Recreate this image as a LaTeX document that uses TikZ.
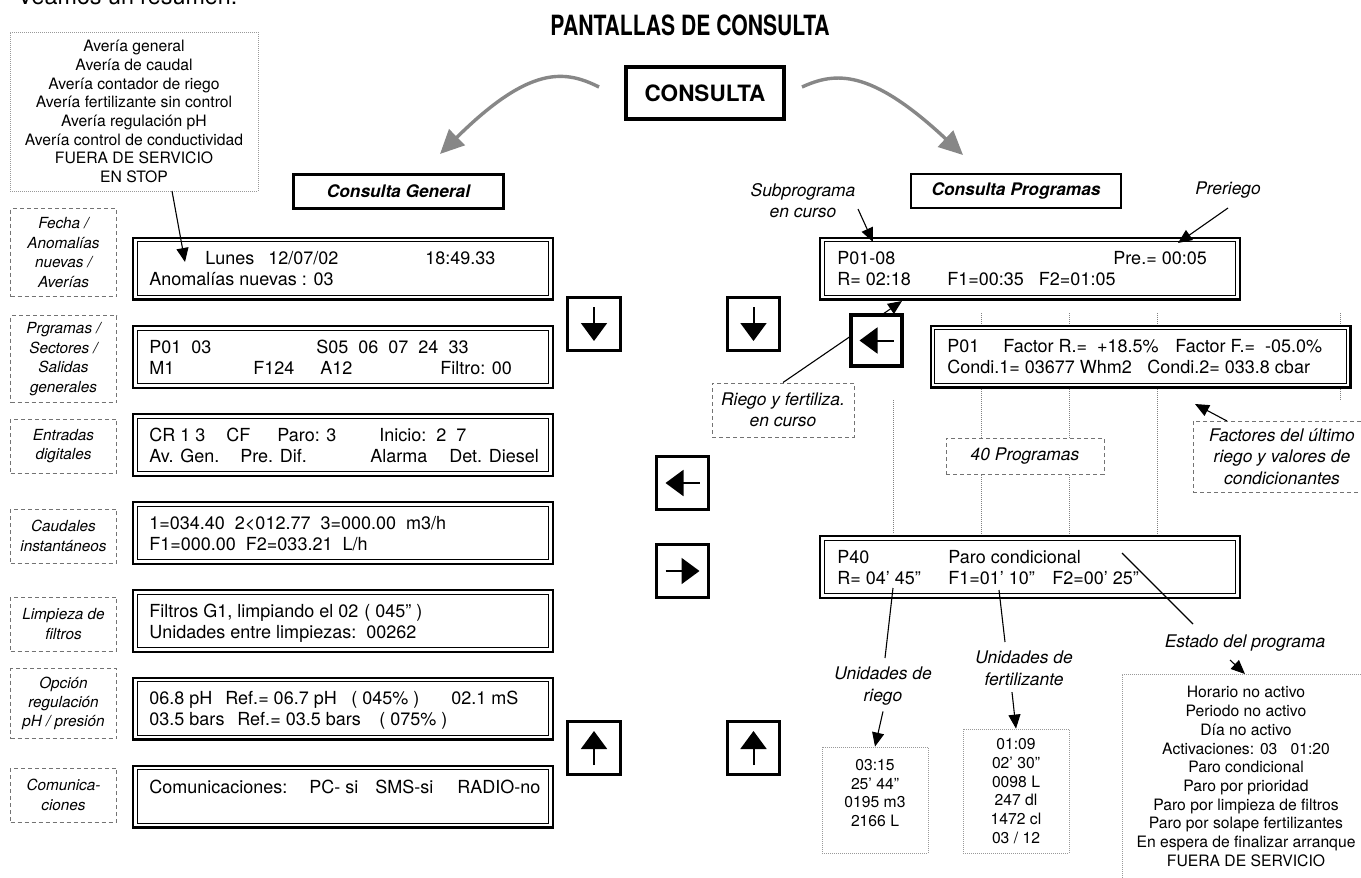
\documentclass[tikz,border=0pt]{standalone}
\usepackage{fontspec}
\setmainfont{TeX Gyre Heros}
\usepackage{graphicx}
\usetikzlibrary{arrows.meta,calc}

% type sizes
\newcommand\fScreen{\fontsize{9}{10.5}\selectfont}
\newcommand\fList{\fontsize{7.85}{9.35}\selectfont}
\newcommand\fSide{\fontsize{7.65}{9.7}\selectfont\itshape}
\newcommand\fNote{\fontsize{8.7}{10.75}\selectfont\itshape}
% one piece of display text, placed on its baseline
\newcommand\lcdline[4]{\node[lcdtxt] (#1) at (#2,#3) {#4};}
% a display frame: heavy outer rule with a thin rule inside it
\newcommand\lcdbox[2]{\node[lcd] (#1) at (#2) {};
  \draw[line width=0.6pt] ([xshift=2.6pt,yshift=-2.6pt]#1.north west) rectangle ([xshift=-2.6pt,yshift=2.6pt]#1.south east);}

\tikzset{
  lcd/.style={draw, line width=1.1pt, minimum width=209.9pt, minimum height=30.9pt, inner sep=0pt},
  lcdtxt/.style={anchor=base west, inner sep=0pt, font=\fScreen},
  keybox/.style={draw, fill=white, line width=1.65pt, minimum size=26.3pt, inner sep=0pt},
  keyarrow/.style={line width=1pt, -{Triangle[length=9pt,width=13pt]}},
  hdr/.style={draw, line width=1.35pt, minimum width=105pt, minimum height=17pt,
    inner sep=0pt, font=\bfseries\itshape\fontsize{8.65}{10}\selectfont},
  sidebox/.style={draw=black!55, dash pattern=on 2pt off 1.5pt, line width=0.5pt,
    minimum width=53pt, inner sep=0pt, align=center, font=\fSide},
  notebox/.style={draw=black!55, fill=white, dash pattern=on 2pt off 1.5pt, line width=0.5pt,
    inner sep=0pt, align=center, font=\fNote},
  dotbox/.style={draw=black!40, dash pattern=on 0.5pt off 0.5pt, line width=0.4pt,
    inner sep=0pt, align=center, font=\fList},
  note/.style={inner sep=0pt, align=center, font=\fNote},
  annarrow/.style={line width=0.55pt, -{Triangle[length=7pt,width=6pt]}},
  annline/.style={line width=0.55pt},
  stack/.style={draw=black!50, dash pattern=on 0.5pt off 0.5pt, line width=0.5pt},
  bigarrow/.style={draw=black!47, line width=1.7pt, -{Triangle[length=12pt,width=11pt]}},
}

\begin{document}
\begin{tikzpicture}[x=0.5pt,y=-0.5pt]
\useasboundingbox (0,0) rectangle (1361,878);
\fill[white] (0,0) rectangle (1361,878);

% ---------- heading ----------
\node[anchor=base west, inner sep=0pt, font=\fontsize{11.65}{14}\selectfont] (intro) at (17,4) {Veamos un resumen:};
\node[inner sep=0pt, font=\bfseries\fontsize{13.95}{16}\selectfont] (title) at (690,25)
  {\scalebox{0.757}[1]{PANTALLAS DE CONSULTA}};
\node[draw, line width=2pt, minimum width=79pt, minimum height=26pt, inner sep=0pt,
  font=\bfseries\fontsize{11.25}{13}\selectfont] (cons) at (705,93) {CONSULTA};

\coordinate (gl0) at (599,87);
\coordinate (gl1) at (440,154);
\coordinate (gr0) at (802,87);
\coordinate (gr1) at (963,155);
\draw[bigarrow] (gl0) .. controls (565,70) and (530,65) .. (gl1);
\draw[bigarrow] (gr0) .. controls (835,72) and (870,68) .. (gr1);

\node[hdr] (cg) at (398.5,191.5) {Consulta General};
\node[hdr] (cp) at (1016,191) {Consulta Programas};

% ---------- fault list ----------
\node[dotbox, minimum width=124pt, minimum height=79.5pt] (av) at (134,111.5)
  {Avería general\\Avería de caudal\\Avería contador de riego\\Avería fertilizante sin control\\
   Avería regulación pH\\Avería control de conductividad\\FUERA DE SERVICIO\\EN STOP};

% ---------- side captions ----------
\node[sidebox, minimum height=44pt] (sFecha) at (63.5,252.5) {Fecha /\\Anomalías\\nuevas /\\Averías};
\node[sidebox, minimum height=43.5pt] (sProg) at (63.5,359) {Prgramas /\\Sectores /\\Salidas\\generales};
\node[sidebox, minimum height=27pt] (sEnt) at (63.5,446) {Entradas\\digitales};
\node[sidebox, minimum height=27pt] (sCau) at (63.5,536) {Caudales\\instantáneos};
\node[sidebox, minimum height=27pt] (sLim) at (63.5,624) {Limpieza de\\filtros};
\node[sidebox, minimum height=35pt] (sOpc) at (63.5,703.5) {Opción\\regulación\\pH / presión};
\node[sidebox, minimum height=27pt] (sCom) at (63.5,795) {Comunica-\\ciones};

% ---------- general displays ----------
\lcdbox{dFecha}{343,268.5}
\lcdbox{dProg}{343,357}
\lcdbox{dEnt}{343,445}
\lcdbox{dCau}{343,533}
\lcdbox{dLim}{343,621}
\lcdbox{dOpc}{343,708.5}
\lcdbox{dCom}{343,796.5}

\lcdline{f1}{205}{264.5}{Lunes}
\lcdline{f2}{268}{264.5}{12/07/02}
\lcdline{f3}{425}{264.5}{18:49.33}
\lcdline{f4}{149}{285.5}{Anomalías nuevas : 03}

\lcdline{p1}{149}{353}{P01\ \ 03}
\lcdline{p2}{316}{353}{S05\ \ 06\ \ 07\ \ 24\ \ 33}
\lcdline{p3}{149}{374}{M1}
\lcdline{p4}{253}{374}{F124}
\lcdline{p5}{320}{374}{A12}
\lcdline{p6}{440}{374}{Filtro: 00}

\lcdline{e1}{149}{441}{CR 1 3}
\lcdline{e2}{226}{441}{CF}
\lcdline{e3}{277}{441}{Paro: 3}
\lcdline{e4}{379}{441}{Inicio:\ \ 2\ \ 7}
\lcdline{e5}{149}{462}{Av. Gen.}
\lcdline{e6}{240}{462}{Pre. Dif.}
\lcdline{e7}{370}{462}{Alarma}
\lcdline{e8}{449}{462}{Det. Diesel}

\lcdline{c1}{149}{529}{1=034.40\ \ 2<012.77\ \ 3=000.00\ \ m3/h}
\lcdline{c2}{149}{550}{F1=000.00\ \ F2=033.21\ \ L/h}

\lcdline{l1}{149}{617}{Filtros G1, limpiando el 02}
\lcdline{l2}{364}{617}{( 045” )}
\lcdline{l3}{149}{638}{Unidades entre limpiezas:}
\lcdline{l4}{366}{638}{00262}

\lcdline{o1}{149}{704.5}{06.8 pH}
\lcdline{o2}{225}{704.5}{Ref.= 06.7 pH}
\lcdline{o3}{351}{704.5}{( 045\% )}
\lcdline{o4}{451}{704.5}{02.1 mS}
\lcdline{o5}{149}{725.5}{03.5 bars}
\lcdline{o6}{237}{725.5}{Ref.= 03.5 bars}
\lcdline{o7}{379}{725.5}{( 075\% )}

\lcdline{k1}{149}{793.5}{Comunicaciones:}
\lcdline{k2}{309}{793.5}{PC- si}
\lcdline{k3}{375}{793.5}{SMS-si}
\lcdline{k4}{457}{793.5}{RADIO-no}

\coordinate (avTail) at (172,191);
\coordinate (avTip) at (185,262);
\draw[annarrow] (avTail) -- (avTip);

% ---------- navigation keys ----------
\node[keybox] (kd1) at (594,324) {};
\node[keybox] (kd2) at (753.5,324) {};
\node[keybox] (kl1) at (682.5,483) {};
\node[keybox] (kr1) at (682.5,571) {};
\node[keybox] (ku1) at (594,748) {};
\node[keybox] (ku2) at (753.5,748) {};
\draw[keyarrow] ($(kd1.center)+(0,-17)$) -- ($(kd1.center)+(0,17)$);
\draw[keyarrow] ($(kd2.center)+(0,-17)$) -- ($(kd2.center)+(0,17)$);
\draw[keyarrow] ($(kl1.center)+(17,0)$) -- ($(kl1.center)+(-17,0)$);
\draw[keyarrow] ($(kr1.center)+(-17,0)$) -- ($(kr1.center)+(17,0)$);
\draw[keyarrow] ($(ku1.center)+(0,17)$) -- ($(ku1.center)+(0,-17)$);
\draw[keyarrow] ($(ku2.center)+(0,17)$) -- ($(ku2.center)+(0,-17)$);

% ---------- program displays ----------
\lcdbox{dP0108}{1030,268.5}
\lcdbox{dP01}{1140.5,356.5}
\lcdbox{dP40}{1030,567}

\lcdline{r1}{837}{264.5}{P01-08}
\lcdline{r2}{1113}{264.5}{Pre.= 00:05}
\lcdline{r3}{837}{285.5}{R= 02:18}
\lcdline{r4}{947}{285.5}{F1=00:35\ \ \ F2=01:05}

\lcdline{q1}{947}{352.5}{P01}
\lcdline{q2}{1003}{352.5}{Factor R.=\ \ +18.5\%}
\lcdline{q3}{1175}{352.5}{Factor F.=\ \ -05.0\%}
\lcdline{q4}{947}{373.5}{Condi.1= 03677 Whm2}
\lcdline{q5}{1147}{373.5}{Condi.2= 033.8 cbar}

\lcdline{s1}{837}{563}{P40}
\lcdline{s2}{948}{563}{Paro condicional}
\lcdline{s3}{837}{584}{R= 04’ 45”}
\lcdline{s4}{948}{584}{F1=01’ 10”}
\lcdline{s5}{1052}{584}{F2=00’ 25”}

% stack of the 40 program screens
\draw[stack] (893,400) -- (893,534);
\foreach \x in {981,1069,1157,1340} \draw[stack] (\x,313) -- (\x,324);
\foreach \x in {981,1069,1157} \draw[stack] (\x,389) -- (\x,534);
\draw[stack] (1340,389) -- (1340,400);
\node[notebox, minimum width=79pt, minimum height=18pt] (n40) at (1025,456) {40 Programas};

% ---------- notes ----------
\node[note] (sub) at (803,200.5) {Subprograma\\en curso};
\coordinate (subT) at (858,209);
\coordinate (subH) at (873,242);
\draw[annarrow] (subT) -- (subH);

\node[note] (pre) at (1228,190) {Preriego};
\coordinate (preT) at (1228,208);
\coordinate (preH) at (1178,243);
\draw[annarrow] (preT) -- (preH);

\node[notebox, minimum width=71pt, minimum height=27pt] (rf) at (783,410) {Riego y fertiliza.\\en curso};
\coordinate (rfH) at (902,301);
\draw[annarrow] (rf.north) -- (rfH);
\node[keybox, line width=2.3pt, minimum size=25.6pt] (kcur) at (876.5,340.5) {};
\draw[keyarrow] ($(kcur.center)+(17,0)$) -- ($(kcur.center)+(-17,0)$);

\node[notebox, minimum width=89pt, minimum height=35.5pt] (fac) at (1282,456.5)
  {Factores del último\\riego y valores de\\condicionantes};
\coordinate (facT) at (1227,421);
\coordinate (facH) at (1195,404);
\draw[annarrow] (facT) -- (facH);

% irrigation units
\node[note] (ur) at (883,686) {Unidades de\\riego};
\coordinate (urT) at (893,588);
\coordinate (urE) at (885,658);
\draw[annline] (urT) -- (urE);
\node[dotbox, minimum width=53pt, minimum height=53pt] (rv) at (875,800) {};
\node[inner sep=0pt, align=center, font=\fList] (rvt) at (875,793) {03:15\\25’ 44”\\0195 m3\\2166 L};
\draw[annarrow] ([yshift=-3pt]ur.south) -- (rv.north);

% fertiliser units
\node[note] (uf) at (1024,668.5) {Unidades de\\fertilizante};
\coordinate (ufT) at (999,590);
\coordinate (ufE) at (1005,642);
\draw[annline] (ufT) -- (ufE);
\node[dotbox, minimum width=53pt, minimum height=62pt] (fv) at (1016,791)
  {01:09\\02’ 30”\\0098 L\\247 dl\\1472 cl\\03 / 12};
\draw[annarrow] ([xshift=-6pt,yshift=-3pt]uf.south) -- (fv.north);

% program state
\node[note] (est) at (1245,643) {Estado del programa};
\coordinate (estT) at (1122,553);
\coordinate (estE) at (1193,624);
\draw[annline] (estT) -- (estE);
\node[dotbox, minimum width=124pt, minimum height=102.5pt] (ev) at (1246,776.5)
  {Horario no activo\\Periodo no activo\\Día no activo\\Activaciones: 03\ \ \ 01:20\\
   Paro condicional\\Paro por prioridad\\Paro por limpieza de filtros\\
   Paro por solape fertilizantes\\En espera de finalizar arranque\\FUERA DE SERVICIO};
\coordinate (evT) at (1230,660);
\coordinate (evH) at (1245,674);
\draw[annarrow] (evT) -- (evH);
\end{tikzpicture}
\end{document}
